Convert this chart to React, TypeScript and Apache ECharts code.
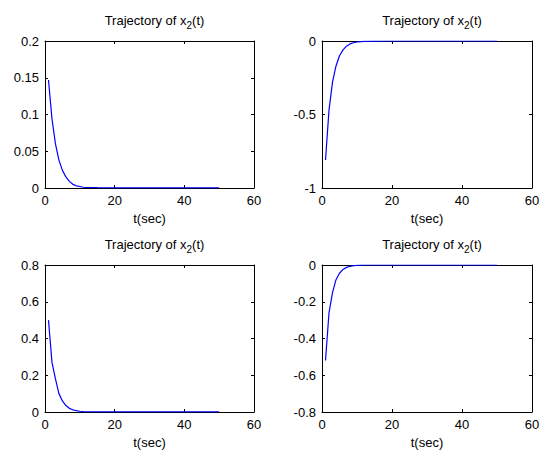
import React, { useEffect, useRef } from "react";
import * as echarts from "echarts";

const tValues = [1, 2, 3, 4, 5, 6, 7, 8, 9, 10, 11, 12, 15, 20, 30, 40, 50];
const seriesTopLeft = [0.147, 0.094, 0.06, 0.038, 0.024, 0.015, 0.009, 0.005, 0.003, 0.002, 0.001, 0.0006, 0.0004, 0.0003, 0.0002, 0.0002, 0.0002];
const seriesTopRight = [-0.81, -0.47, -0.28, -0.17, -0.1, -0.06, -0.035, -0.02, -0.012, -0.007, -0.004, -0.002, -0.001, 0, 0, 0, 0];
const seriesBottomLeft = [0.5, 0.27, 0.18, 0.1, 0.06, 0.035, 0.02, 0.012, 0.007, 0.004, 0.002, 0.001, 0.0005, 0.0003, 0.0003, 0.0003, 0.0003];
const seriesBottomRight = [-0.52, -0.26, -0.15, -0.08, -0.045, -0.024, -0.013, -0.007, -0.004, -0.002, -0.001, 0, 0, 0, 0, 0, 0];

const xTicks = { min: 0, max: 60, interval: 20 };
const yRanges = [
  { min: 0, max: 0.2, interval: 0.05 },
  { min: -1, max: 0, interval: 0.5 },
  { min: 0, max: 0.8, interval: 0.2 },
  { min: -0.8, max: 0, interval: 0.2 },
];
const titleText = "Trajectory of x{sub|2}(t)";
const xName = "t(sec)";

const FONT = "Liberation Sans, Arial, sans-serif";

export default function App() {
  const ref = useRef<HTMLDivElement>(null);
  useEffect(() => {
    if (!ref.current) return;
    const chart = echarts.init(ref.current, null, { renderer: "svg" });
    const grids = [
      { left: 45, top: 41, width: 209, height: 147 },
      { left: 322, top: 41, width: 210, height: 147 },
      { left: 45, top: 265, width: 209, height: 147 },
      { left: 322, top: 265, width: 210, height: 147 },
    ];
    const allSeries = [seriesTopLeft, seriesTopRight, seriesBottomLeft, seriesBottomRight];
    const xAxes: any[] = [];
    const yAxes: any[] = [];
    const series: any[] = [];
    const titles: any[] = [];
    grids.forEach((g, i) => {
      const tickStyle = { show: true, inside: true, length: 3, lineStyle: { color: "#000" } };
      const lineStyle = { show: true, onZero: false, lineStyle: { color: "#000", width: 1 } };
      xAxes.push({
        type: "value", gridIndex: i, position: "bottom", ...xTicks,
        axisLine: lineStyle,
        axisTick: tickStyle, splitLine: { show: false },
        axisLabel: { color: "#000", fontSize: 13, fontFamily: FONT, margin: 6 },
        name: xName, nameLocation: "middle", nameGap: 24,
        nameTextStyle: { color: "#000", fontSize: 13, fontFamily: FONT },
      });
      xAxes.push({
        type: "value", gridIndex: i, position: "top", ...xTicks,
        axisLine: lineStyle,
        axisTick: tickStyle, splitLine: { show: false }, axisLabel: { show: false },
      });
      yAxes.push({
        type: "value", gridIndex: i, position: "left", ...yRanges[i],
        axisLine: lineStyle,
        axisTick: tickStyle, splitLine: { show: false },
        axisLabel: { color: "#000", fontSize: 13, fontFamily: FONT, margin: 6 },
      });
      yAxes.push({
        type: "value", gridIndex: i, position: "right", ...yRanges[i],
        axisLine: lineStyle,
        axisTick: tickStyle, splitLine: { show: false }, axisLabel: { show: false },
      });
      series.push({
        type: "line", xAxisIndex: i * 2, yAxisIndex: i * 2,
        data: tValues.map((t, k) => [t, allSeries[i][k]]),
        showSymbol: false, symbol: "none", smooth: false,
        lineStyle: { color: "#0000ff", width: 1.2 }, z: 5,
      });
      titles.push({
        text: titleText, left: g.left + g.width / 2, textAlign: "center", top: i < 2 ? 6 : 230,
        textStyle: {
          color: "#000", fontSize: 13, fontWeight: "normal", fontFamily: FONT,
          rich: { sub: { fontSize: 10, fontFamily: FONT, color: "#000", padding: [9, 0, 0, 0] } },
        },
      });
    });
    chart.setOption({
      animation: false,
      backgroundColor: "#fff",
      title: titles,
      grid: grids.map((g) => ({ ...g, show: false, containLabel: false })),
      xAxis: xAxes,
      yAxis: yAxes,
      series,
    });
    return () => chart.dispose();
  }, []);
  return <div ref={ref} style={{ width: 547, height: 453, position: "absolute", left: 0, top: 0 }} />;
}
